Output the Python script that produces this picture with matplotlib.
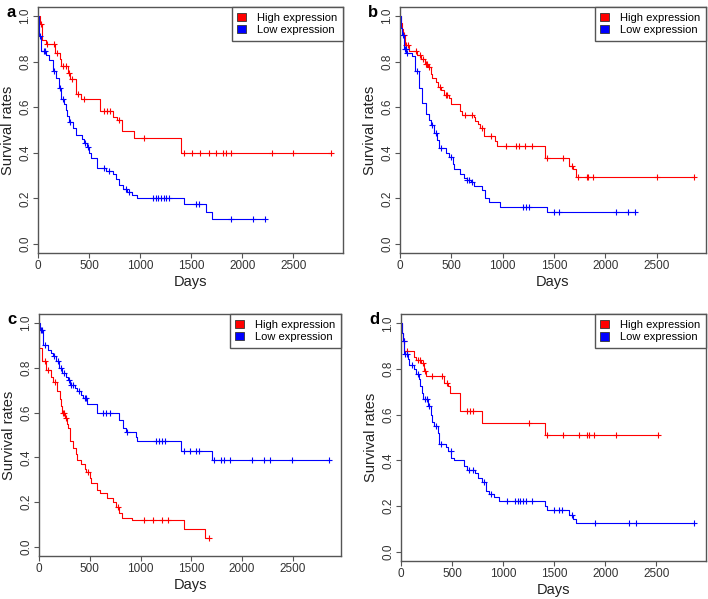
import numpy as np
import matplotlib
matplotlib.use("Agg")
import matplotlib.pyplot as plt
from matplotlib.patches import Rectangle

plt.rcParams['font.family'] = ['Liberation Sans', 'DejaVu Sans']

# panel a
a_high_t = [16, 42, 81, 162, 211, 227, 292, 315, 367, 422, 610, 730, 770, 821, 938, 1403]
a_high_s = [0.964, 0.894, 0.876, 0.84, 0.81, 0.78, 0.751, 0.722, 0.657, 0.635, 0.584, 0.555, 0.545, 0.496, 0.467, 0.40]
a_high_c = [32, 91, 156, 185, 244, 276, 302, 331, 390, 455, 649, 672, 705, 790, 1039, 1429, 1503,
            1588, 1679, 1740, 1808, 1838, 1890, 2289, 2497, 2873]
a_low_t = [8, 32, 81, 110, 146, 179, 205, 227, 250, 270, 282, 299, 341, 373, 432, 455, 477, 503, 516,
           575, 666, 730, 763, 795, 828, 870, 919, 974, 1429, 1646, 1705]
a_low_s = [0.911, 0.847, 0.831, 0.807, 0.759, 0.73, 0.686, 0.635, 0.615, 0.59, 0.56, 0.533, 0.509, 0.48,
           0.46, 0.443, 0.424, 0.40, 0.379, 0.334, 0.32, 0.305, 0.285, 0.26, 0.24, 0.23, 0.215, 0.203,
           0.177, 0.14, 0.108]
a_low_c = [18, 55, 71, 156, 211, 244, 315, 460, 487, 643, 698, 860, 886, 1127, 1153, 1179, 1205, 1231,
           1257, 1282, 1549, 1581, 1890, 2104, 2224]

# panel b
b_high_t = [10, 23, 32, 49, 87, 168, 201, 240, 272, 304, 314, 346, 369, 402, 427, 476, 492, 589, 605,
            719, 735, 758, 777, 822, 929, 945, 1409, 1642, 1684, 1716]
b_high_s = [0.97, 0.945, 0.915, 0.873, 0.847, 0.83, 0.81, 0.79, 0.775, 0.745, 0.73, 0.71, 0.69, 0.675,
            0.655, 0.64, 0.616, 0.584, 0.565, 0.555, 0.54, 0.525, 0.507, 0.474, 0.45, 0.43, 0.377,
            0.343, 0.33, 0.295]
b_high_c = [39, 62, 78, 159, 191, 223, 249, 266, 285, 389, 447, 460, 638, 703, 800, 890, 1036, 1133,
            1162, 1221, 1286, 1431, 1584, 1674, 1739, 1820, 1836, 1885, 2500, 2866]
b_low_t = [6, 16, 39, 62, 113, 146, 185, 217, 249, 282, 298, 330, 363, 379, 444, 476, 512, 525, 589,
           628, 654, 687, 725, 800, 832, 864, 978, 1431]
b_low_s = [0.95, 0.915, 0.857, 0.84, 0.825, 0.759, 0.686, 0.62, 0.572, 0.545, 0.521, 0.485, 0.455,
           0.419, 0.40, 0.38, 0.35, 0.331, 0.305, 0.29, 0.28, 0.27, 0.255, 0.235, 0.20, 0.182, 0.163, 0.139]
b_low_c = [29, 45, 55, 71, 162, 314, 346, 402, 499, 654, 674, 703, 1198, 1224, 1253, 1496, 1554,
           2105, 2218, 2290]

# panel c
c_high_t = [2, 30, 72, 121, 138, 177, 203, 213, 230, 253, 276, 285, 302, 308, 335, 361, 374, 417, 449,
            466, 499, 515, 571, 597, 669, 728, 755, 784, 820, 919, 1424, 1640]
c_high_s = [0.89, 0.83, 0.79, 0.76, 0.738, 0.696, 0.66, 0.63, 0.60, 0.575, 0.55, 0.53, 0.50, 0.474,
            0.444, 0.415, 0.388, 0.37, 0.35, 0.335, 0.31, 0.286, 0.255, 0.24, 0.22, 0.20, 0.18, 0.15,
            0.13, 0.119, 0.079, 0.04]
c_high_c = [62, 89, 154, 236, 246, 269, 482, 778, 1030, 1122, 1211, 1270, 1670]
c_low_t = [7, 39, 89, 121, 138, 171, 197, 230, 262, 285, 302, 351, 374, 417, 433, 472, 571, 784, 827,
           860, 951, 965, 1401, 1700]
c_low_s = [0.97, 0.90, 0.88, 0.865, 0.852, 0.83, 0.80, 0.775, 0.76, 0.745, 0.725, 0.71, 0.695, 0.68,
           0.665, 0.64, 0.60, 0.566, 0.533, 0.515, 0.49, 0.474, 0.427, 0.387]
c_low_c = [16, 33, 56, 144, 187, 213, 246, 295, 318, 335, 394, 456, 465, 630, 656, 696, 869, 1155,
           1181, 1211, 1243, 1424, 1490, 1549, 1575, 1722, 1788, 1818, 1877, 2096, 2215, 2277, 2493, 2861]

# panel d
d_high_t = [6, 16, 32, 123, 146, 195, 227, 243, 422, 461, 481, 578, 795, 1406]
d_high_s = [0.96, 0.923, 0.879, 0.854, 0.839, 0.825, 0.79, 0.769, 0.74, 0.725, 0.696, 0.616, 0.565, 0.511]
d_high_c = [26, 58, 162, 188, 217, 236, 308, 406, 448, 649, 675, 701, 1250, 1429, 1591, 1747, 1818,
            1838, 1893, 2110, 2516]
d_low_t = [6, 16, 32, 71, 81, 123, 146, 172, 185, 205, 217, 260, 292, 308, 325, 364, 373, 438, 464,
           494, 519, 617, 649, 721, 753, 795, 828, 860, 909, 958, 1412, 1429, 1649, 1682, 1714]
d_low_s = [0.96, 0.925, 0.864, 0.845, 0.82, 0.80, 0.78, 0.755, 0.726, 0.695, 0.67, 0.64, 0.601, 0.57,
           0.55, 0.52, 0.474, 0.46, 0.44, 0.412, 0.40, 0.375, 0.36, 0.345, 0.325, 0.305, 0.266, 0.255,
           0.24, 0.222, 0.20, 0.182, 0.16, 0.145, 0.126]
d_low_c = [26, 39, 58, 104, 162, 237, 250, 276, 341, 396, 487, 666, 705, 812, 883, 1039, 1120, 1146,
           1169, 1195, 1224, 1282, 1494, 1552, 1575, 1672, 1899, 2234, 2299, 2873]

panels = [
    ('a', [0.0537, 0.5776, 0.431, 0.4107], (a_high_t, a_high_s, a_high_c), (a_low_t, a_low_s, a_low_c)),
    ('b', [0.565, 0.5776, 0.432, 0.4107], (b_high_t, b_high_s, b_high_c), (b_low_t, b_low_s, b_low_c)),
    ('c', [0.0551, 0.0718, 0.4266, 0.404], (c_high_t, c_high_s, c_high_c), (c_low_t, c_low_s, c_low_c)),
    ('d', [0.5664, 0.0634, 0.4308, 0.412], (d_high_t, d_high_s, d_high_c), (d_low_t, d_low_s, d_low_c)),
]

edge = '#555555'


def km(ax, t, s, c, col):
    t = np.asarray(t, float)
    s = np.asarray(s, float)
    c = np.asarray(c, float)
    tend = max(t.max(), c.max())
    xs = np.concatenate([[0], t, [tend]])
    ys = np.concatenate([[1.0], s, [s[-1]]])
    ax.step(xs, ys, where='post', color=col, lw=0.8)
    # survival at censor times
    idx = np.searchsorted(t, c, side='right')
    sc = np.concatenate([[1.0], s])[idx]
    ax.plot(c, sc, ls='none', marker='+', ms=5, mew=0.8, color=col)
    return tend


fig = plt.figure(figsize=(7.08, 5.99), dpi=100)

for letter, rect, high, low in panels:
    ax = fig.add_axes(rect)
    tmax = max(km(ax, *high, 'red'), km(ax, *low, 'blue'))
    ax.set_xlim(0, tmax * 1.04)
    ax.set_ylim(-0.04, 1.04)
    ax.set_xticks([0, 500, 1000, 1500, 2000, 2500])
    ax.set_yticks([0.0, 0.2, 0.4, 0.6, 0.8, 1.0])
    ax.set_yticklabels(['0.0', '0.2', '0.4', '0.6', '0.8', '1.0'], rotation=90, va='center')
    ax.tick_params(direction='out', length=3.5, width=0.8, color=edge, labelsize=8.5,
                   labelcolor='#333333', pad=1.5)
    for sp in ax.spines.values():
        sp.set_color(edge)
        sp.set_linewidth(1.0)
    ax.set_xlabel('Days', fontsize=10.5, color='#222222', labelpad=2)
    ax.set_ylabel('Survival rates', fontsize=10.5, color='#222222', labelpad=3)

    handles = [Rectangle((0, 0), 1, 1, facecolor='red', edgecolor='#333333', lw=0.6),
               Rectangle((0, 0), 1, 1, facecolor='blue', edgecolor='#333333', lw=0.6)]
    leg = ax.legend(handles, ['High expression', 'Low expression'], loc='upper right',
                    borderaxespad=0, fontsize=8, fancybox=False, framealpha=1,
                    handlelength=0.8, handleheight=0.8, handletextpad=1.0,
                    labelspacing=0.2, borderpad=0.5)
    leg.get_frame().set_edgecolor(edge)
    leg.get_frame().set_linewidth(1.0)

    fig.text(rect[0] - 0.045, rect[1] + rect[3] + 0.003, letter, fontsize=12, fontweight='bold',
             va='top', ha='left')

fig.savefig('out.png', dpi=100)
